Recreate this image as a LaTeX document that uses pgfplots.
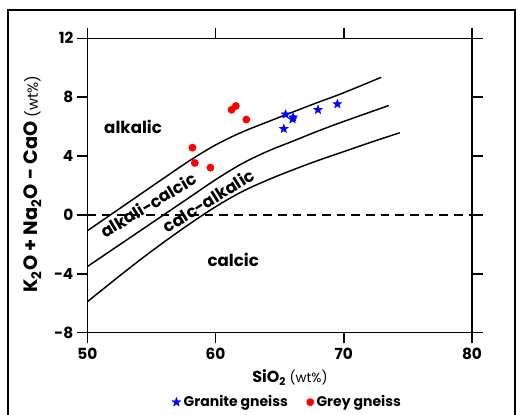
\documentclass[border=0pt]{standalone}
\usepackage{fontspec}
\setmainfont{Poppins}
\usepackage{pgfplots}
\pgfplotsset{compat=1.18}

\pgfdeclareplotmark{fstar}{%
  \pgfpathmoveto{\pgfpointpolar{90}{\pgfplotmarksize}}%
  \pgfpathlineto{\pgfpointpolar{126}{0.42\pgfplotmarksize}}%
  \pgfpathlineto{\pgfpointpolar{162}{\pgfplotmarksize}}%
  \pgfpathlineto{\pgfpointpolar{198}{0.42\pgfplotmarksize}}%
  \pgfpathlineto{\pgfpointpolar{234}{\pgfplotmarksize}}%
  \pgfpathlineto{\pgfpointpolar{270}{0.42\pgfplotmarksize}}%
  \pgfpathlineto{\pgfpointpolar{306}{\pgfplotmarksize}}%
  \pgfpathlineto{\pgfpointpolar{342}{0.42\pgfplotmarksize}}%
  \pgfpathlineto{\pgfpointpolar{18}{\pgfplotmarksize}}%
  \pgfpathlineto{\pgfpointpolar{54}{0.42\pgfplotmarksize}}%
  \pgfpathclose
  \pgfusepathqfillstroke
}

\begin{document}
\begin{tikzpicture}
\useasboundingbox (-65.5pt,-61pt) rectangle (321.5pt,249.5pt);
\draw[line width=1.4pt] (-59.5pt,-80pt) rectangle (320.5pt,242pt);
\begin{axis}[
  at={(0,0)}, anchor=south west,
  scale only axis, width=288.5pt, height=220.8pt,
  xmin=50, xmax=80, ymin=-8, ymax=12,
  xtick={50,60,70,80}, ytick={-8,-4,0,4,8,12},
  tick align=outside, major tick length=8pt,
  axis line style={line width=1.1pt},
  every tick/.style={black, line width=1.1pt},
  /pgf/number format/assume math mode=true,
  tick label style={font=\fontsize{11.5}{13}\selectfont\bfseries},
  yticklabel style={xshift=1pt},
  clip=false,
  legend columns=2,
  legend style={at={(0.521,-0.236)}, anchor=center, draw=none, fill=none,
    font=\fontsize{10.5}{12}\selectfont\bfseries,
    /tikz/every even column/.append style={column sep=12pt}},
  legend cell align=left,
]
% boundary curves
\addplot[black, line width=1.1pt, smooth, tension=0.6, forget plot] coordinates {
 (50,-1.08) (53,0.72) (56,2.52) (58,3.7) (60,4.75) (62,5.6) (64,6.3) (66,6.98) (68,7.65) (70,8.3) (72.92,9.35)};
\addplot[black, line width=1.1pt, smooth, tension=0.6, forget plot] coordinates {
 (50,-3.51) (53,-1.74) (56,0.03) (58,1.21) (60,2.39) (62,3.45) (64,4.3) (66,5.0) (68,5.7) (70,6.35) (73.51,7.43)};
\addplot[black, line width=1.1pt, smooth, tension=0.6, forget plot] coordinates {
 (50,-5.9) (52,-4.5) (54,-3.13) (56,-1.83) (58,-0.6) (60,0.55) (62,1.55) (64,2.35) (66,3.05) (68,3.7) (70,4.3) (72,4.9) (74.36,5.58)};
\addplot[black, line width=1pt, dash pattern=on 6.5pt off 4.5pt, forget plot] coordinates {(50,0) (80,0)};
% samples
\addplot[only marks, mark=fstar, mark size=3.6pt, draw=blue, fill=blue,
  mark options={line width=0.2pt}] coordinates {
 (65.46,6.83) (66.05,6.63) (66.0,6.5) (65.32,5.85) (67.99,7.14) (69.5,7.53)};
\addlegendentry{Granite gneiss}
\addplot[only marks, mark=*, mark size=2.7pt, draw=red, fill=red] coordinates {
 (58.2,4.57) (58.38,3.53) (59.6,3.21) (61.25,7.14) (61.58,7.4) (62.4,6.48)};
\addlegendentry{Grey gneiss}
% field labels
\node[font=\fontsize{12.5}{14}\selectfont\bfseries] at (axis cs:53.57,5.99) {alkalic};
\node[font=\fontsize{12.5}{14}\selectfont\bfseries, rotate=31] at (axis cs:54.76,0.68) {alkali-calcic};
\node[font=\fontsize{12.5}{14}\selectfont\bfseries, rotate=32] at (axis cs:59.43,0.96) {calc-alkalic};
\node[font=\fontsize{12.5}{14}\selectfont\bfseries] at (axis cs:61.38,-3.08) {calcic};
\end{axis}
\node[font=\fontsize{12}{14}\selectfont\bfseries] at (152pt,-33.6pt)
  {SiO\textsubscript{2} {\mdseries\fontsize{10}{12}\selectfont(wt\%)}};
\node[rotate=90, font=\fontsize{14.5}{16}\selectfont\bfseries] at (-41pt,111.5pt)
  {K\textsubscript{2}O + Na\textsubscript{2}O - CaO {\mdseries\fontsize{11}{13}\selectfont(wt\%)}};
\end{tikzpicture}
\end{document}
